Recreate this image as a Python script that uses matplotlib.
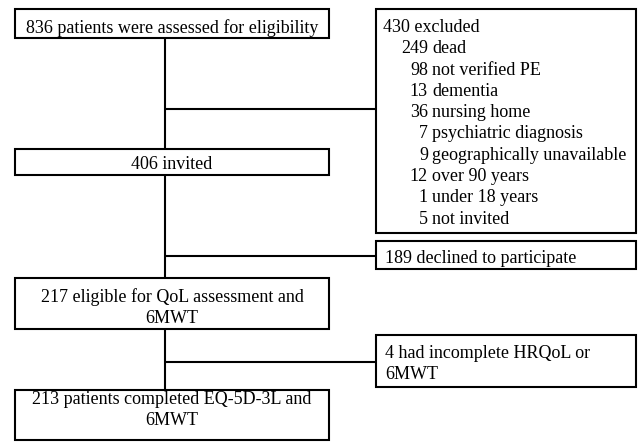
"""Patient flow chart (eligibility -> invited -> eligible -> completed)."""

import matplotlib
matplotlib.use("Agg")
import matplotlib.pyplot as plt
from matplotlib.patches import Rectangle

# ----------------------------------------------------------------------
# Content
# ----------------------------------------------------------------------
MAIN_STEPS = [
    ["836 patients were assessed for eligibility"],
    ["406 invited"],
    ["217 eligible for QoL assessment and", "6MWT"],
    ["213 patients completed EQ-5D-3L and", "6MWT"],
]

EXCLUDED_TITLE = "430 excluded"
EXCLUDED_COUNTS = [249, 98, 13, 36, 7, 9, 12, 1, 5]
EXCLUDED_REASONS = [
    "dead",
    "not verified PE",
    "dementia",
    "nursing home",
    "psychiatric diagnosis",
    "geographically unavailable",
    "over 90 years",
    "under 18 years",
    "not invited",
]

SIDE_BOXES = [
    ["189 declined to participate"],
    ["4 had incomplete HRQoL or", "6MWT"],
]

# ----------------------------------------------------------------------
# Layout (pixel coordinates, y grows downward)
# ----------------------------------------------------------------------
W, H = 638, 442
LW = 1.5
FS = 13
FONT = ["Liberation Serif", "DejaVu Serif"]
LINE_H = 21.3

main_x0, main_x1 = 15, 329
side_x0, side_x1 = 376, 636
spine_x = 165

main_boxes = [(9, 38), (149, 175), (278, 329), (390, 440)]
main_base = [33, 169, 302, 404]

side_boxes = [(241, 269), (335, 387)]
side_base = [263, 358]
excl_box = (9, 233)
excl_base = 32

connectors_y = [109, 256, 362]

fig = plt.figure(figsize=(W / 100, H / 100), dpi=100)
ax = fig.add_axes([0, 0, 1, 1])
ax.set_xlim(0, W)
ax.set_ylim(H, 0)
ax.axis("off")


def box(x0, x1, y0, y1):
    ax.add_patch(Rectangle((x0, y0), x1 - x0, y1 - y0, fill=False,
                           edgecolor="black", linewidth=LW))


def txt(x, y, s, ha="left"):
    ax.text(x, y, s, ha=ha, va="baseline", fontsize=FS, family=FONT,
            color="black")


# main column
cx = (main_x0 + main_x1) / 2
for (y0, y1), base, lines in zip(main_boxes, main_base, MAIN_STEPS):
    box(main_x0, main_x1, y0, y1)
    for i, line in enumerate(lines):
        txt(cx, base + i * LINE_H, line, ha="center")

# vertical spine between main boxes
for (_, y_bot), (y_top, _) in zip(main_boxes[:-1], main_boxes[1:]):
    ax.plot([spine_x, spine_x], [y_bot, y_top], color="black", lw=LW,
            solid_capstyle="butt")

# horizontal connectors to side boxes
for y in connectors_y:
    ax.plot([spine_x, side_x0], [y, y], color="black", lw=LW,
            solid_capstyle="butt")

# excluded box
box(side_x0, side_x1, *excl_box)
txt(383, excl_base, EXCLUDED_TITLE)
for i, (n, reason) in enumerate(zip(EXCLUDED_COUNTS, EXCLUDED_REASONS), 1):
    y = excl_base + i * LINE_H
    txt(428, y, str(n), ha="right")
    txt(432, y, reason)

# other side boxes
for (y0, y1), base, lines in zip(side_boxes, side_base, SIDE_BOXES):
    box(side_x0, side_x1, y0, y1)
    for i, line in enumerate(lines):
        txt(385, base + i * LINE_H, line)

fig.savefig("out.png", dpi=100)
